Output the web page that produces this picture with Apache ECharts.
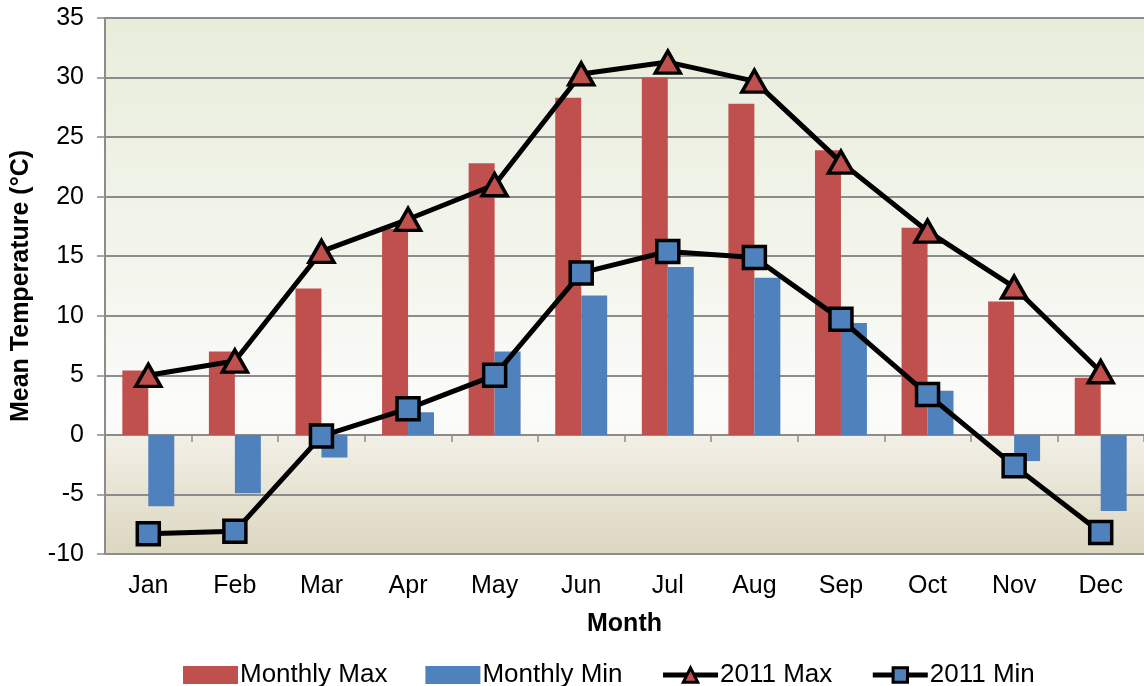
<!DOCTYPE html>
<html>
<head>
<meta charset="utf-8">
<script src="https://cdn.jsdelivr.net/npm/echarts@6/dist/echarts.min.js"></script>
<style>
  html, body { margin: 0; padding: 0; background: #ffffff; }
  #chart { width: 1144px; height: 686px; }
</style>
</head>
<body>
<div id="chart"></div>
<script>
// Monthly mean temperatures (°C)
const months = ['Jan', 'Feb', 'Mar', 'Apr', 'May', 'Jun', 'Jul', 'Aug', 'Sep', 'Oct', 'Nov', 'Dec'];
const monthlyMax = [5.4, 7.0, 12.3, 17.3, 22.8, 28.3, 30.0, 27.8, 23.9, 17.4, 11.2, 4.8];
const monthlyMin = [-6.0, -4.9, -1.9, 1.9, 7.0, 11.7, 14.1, 13.2, 9.4, 3.7, -2.2, -6.4];
const max2011 = [5.0, 6.2, 15.4, 18.1, 21.0, 30.3, 31.3, 29.7, 22.9, 17.1, 12.4, 5.3];
const min2011 = [-8.3, -8.1, -0.1, 2.2, 5.0, 13.6, 15.4, 14.9, 9.7, 3.4, -2.6, -8.2];
const yTicks = { min: -10, max: 35, step: 5 };

const FONT = '"Liberation Sans", Arial, sans-serif';
const GRID_GRAY = '#8c8c8c';
const LABEL_SIZE = 25;

const chart = echarts.init(document.getElementById('chart'), null, { renderer: 'canvas' });

chart.setOption({
  animation: false,
  textStyle: { fontFamily: FONT, color: '#000' },
  grid: {
    left: 105, right: 0, top: 18, bottom: 132,
    show: true,
    borderWidth: 0,
    backgroundColor: new echarts.graphic.LinearGradient(0, 0, 0, 1, [
      { offset: 0, color: '#e8eddb' },
      { offset: 0.45, color: '#f3f5ec' },
      { offset: 0.72, color: '#fbfbf9' },
      { offset: 0.777, color: '#fafaf8' },
      { offset: 0.78, color: '#f2efe6' },
      { offset: 1, color: '#dcd7c0' }
    ])
  },
  legend: {
    left: 178,
    top: 657,
    itemWidth: 55,
    itemHeight: 18,
    itemGap: 38,
    textStyle: { fontFamily: FONT, fontSize: 26, color: '#000', padding: [0, 0, 0, -3] },
    data: [
      { name: 'Monthly Max', icon: 'rect' },
      { name: 'Monthly Min', icon: 'rect' },
      { name: '2011 Max', lineStyle: { color: '#000', width: 5 }, itemStyle: { borderColor: '#000', borderWidth: 3 } },
      { name: '2011 Min', lineStyle: { color: '#000', width: 5 }, itemStyle: { borderColor: '#000', borderWidth: 3 } }
    ]
  },
  xAxis: [
    {
      type: 'category',
      data: months,
      position: 'bottom',
      axisLine: { show: false, onZero: false },
      axisTick: { show: false },
      axisLabel: { fontFamily: FONT, fontSize: LABEL_SIZE, color: '#000', margin: 20 },
      name: 'Month',
      nameLocation: 'middle',
      nameGap: 58,
      nameTextStyle: { fontFamily: FONT, fontSize: 25, fontWeight: 'bold', color: '#000' }
    },
    {
      type: 'category',
      data: months,
      position: 'bottom',
      axisLine: { show: true, onZero: true, lineStyle: { color: GRID_GRAY, width: 2 } },
      axisTick: { show: true, inside: false, length: 7, lineStyle: { color: GRID_GRAY, width: 1.5 } },
      axisLabel: { show: false }
    }
  ],
  yAxis: {
    type: 'value',
    min: yTicks.min,
    max: yTicks.max,
    interval: yTicks.step,
    axisLine: { show: true, lineStyle: { color: GRID_GRAY, width: 2 } },
    axisTick: { show: true, length: 8, lineStyle: { color: GRID_GRAY, width: 1.5 } },
    axisLabel: { fontFamily: FONT, fontSize: LABEL_SIZE, color: '#000', margin: 21 },
    splitLine: { show: true, lineStyle: { color: GRID_GRAY, width: 2 } },
    name: 'Mean Temperature (°C)',
    nameLocation: 'middle',
    nameGap: 71,
    nameTextStyle: { fontFamily: FONT, fontSize: 25, fontWeight: 'bold', color: '#000' }
  },
  series: [
    {
      name: 'Monthly Max',
      type: 'bar',
      data: monthlyMax,
      barGap: '0%',
      barCategoryGap: '40%',
      itemStyle: { color: '#c0504d' },
      z: 2
    },
    {
      name: 'Monthly Min',
      type: 'bar',
      data: monthlyMin,
      barGap: '0%',
      barCategoryGap: '40%',
      itemStyle: { color: '#4f81bd' },
      z: 2
    },
    {
      name: '2011 Max',
      type: 'line',
      data: max2011,
      symbol: 'triangle',
      symbolSize: [25, 22],
      lineStyle: { color: '#000', width: 5 },
      itemStyle: { color: '#c0504d', borderColor: '#000', borderWidth: 3.5 },
      z: 3
    },
    {
      name: '2011 Min',
      type: 'line',
      data: min2011,
      symbol: 'rect',
      symbolSize: 22,
      lineStyle: { color: '#000', width: 5 },
      itemStyle: { color: '#4f81bd', borderColor: '#000', borderWidth: 3.5 },
      z: 3
    }
  ]
});
</script>
</body>
</html>
